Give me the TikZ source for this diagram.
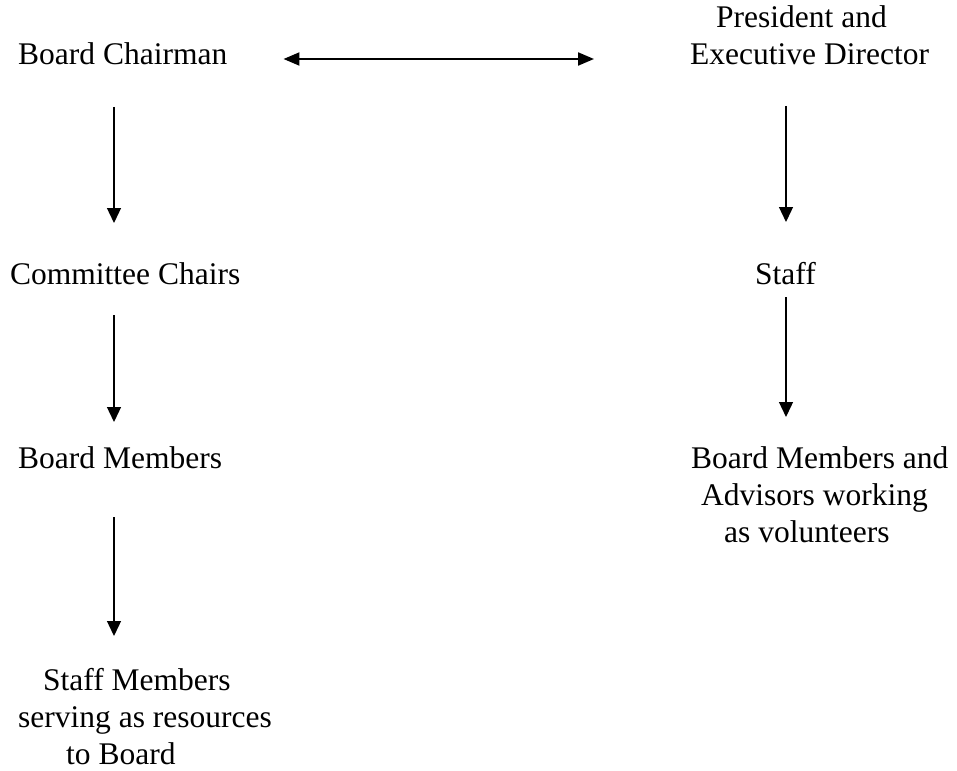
\documentclass[tikz,border=0pt]{standalone}
\usepackage{fontspec}
\setmainfont{Liberation Serif}
\usetikzlibrary{arrows.meta}
\begin{document}
\begin{tikzpicture}[x=1pt,y=-1pt,
  lbl/.style={inner sep=0pt, anchor=base west, font=\fontsize{31.5}{37}\selectfont},
  down/.style={-{Triangle[length=15pt,width=14pt]}, line width=1.3pt},
  both/.style={{Triangle[length=16pt,width=13pt]}-{Triangle[length=16pt,width=13pt]}, line width=2pt}]
\useasboundingbox (0,0) rectangle (957,770);

% columns and row used by the connectors
\coordinate (colL) at (114,0);
\coordinate (colR) at (786,0);
\coordinate (rowTop) at (0,59);

% left column
\node[lbl] (bc) at (18,65) {Board Chairman};
\node[lbl] (cc) at (10,284) {Committee Chairs};
\node[lbl] (bm) at (18,468) {Board Members};
\node[lbl] (sm) at (18,690) {\begin{tabular}[t]{@{}l@{}}\hspace{25pt}Staff Members\\serving as resources\\\hspace{48pt}to Board\end{tabular}};

% right column
\node[lbl] (pe) at (690,28) {\begin{tabular}[t]{@{}l@{}}\hspace{26pt}President and\\Executive Director\end{tabular}};
\node[lbl] (st) at (755,284) {Staff};
\node[lbl] (bv) at (691,468) {\begin{tabular}[t]{@{}l@{}}Board Members and\\\hspace{10pt}Advisors working\\\hspace{33pt}as volunteers\end{tabular}};

% connectors
\draw[both, shorten <=56pt, shorten >=96pt] (bc.base east |- rowTop) -- (pe.base west |- rowTop);

\draw[down, shorten <=42pt, shorten >=61pt] (bc.base -| colL) -- (cc.base -| colL);
\draw[down, shorten <=31pt, shorten >=46pt] (cc.base -| colL) -- (bm.base -| colL);
\draw[down, shorten <=49pt, shorten >=54pt] (bm.base -| colL) -- (sm.base -| colL);

\draw[down, shorten <=78pt, shorten >=62pt] (pe.base -| colR) -- (st.base -| colR);
\draw[down, shorten <=13pt, shorten >=51pt] (st.base -| colR) -- (bv.base -| colR);
\end{tikzpicture}
\end{document}
